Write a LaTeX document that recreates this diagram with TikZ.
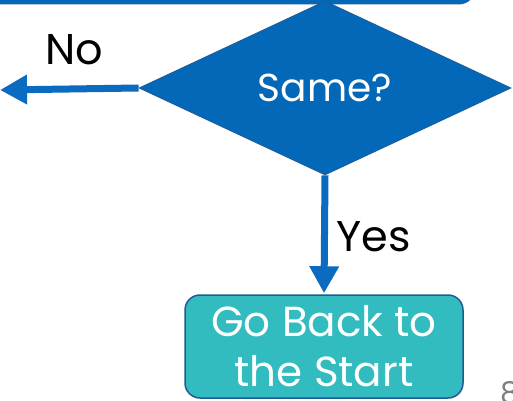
\documentclass[tikz,border=0pt]{standalone}
\usepackage{fontspec}
\setmainfont{Poppins}
\usetikzlibrary{shapes.geometric,arrows.meta}
\definecolor{flowblue}{HTML}{0468B8}
\definecolor{edgeblue}{HTML}{1F5A96}
\definecolor{arrowblue}{HTML}{0A6BC0}
\definecolor{teal}{HTML}{33BCBF}
\definecolor{pagegray}{HTML}{7F7F7F}
\tikzset{
  decision/.style={diamond, draw=edgeblue, line width=0.8pt, fill=flowblue,
    minimum width=372pt, minimum height=174pt, inner sep=0pt,
    text=white, font=\fontsize{39}{40}\selectfont},
  endbox/.style={rectangle, rounded corners=15pt, draw=edgeblue, line width=1.5pt,
    fill=teal, minimum width=278pt, minimum height=103pt, inner sep=0pt,
    text=white, align=center, font=\fontsize{42}{50}\selectfont},
  flow/.style={draw=arrowblue, line width=7pt,
    -{Triangle[length=27pt,width=28pt]}},
  branch/.style={text=black, font=\fontsize{43}{43}\selectfont},
}
\begin{document}
\begin{tikzpicture}[x=1pt,y=1pt]
  \useasboundingbox (0,0) rectangle (513,400);
  \clip (0,0) rectangle (513,400);
  % previous step, only its lower edge is in view
  \draw[edgeblue, line width=0.8pt, fill=flowblue, rounded corners=16pt]
    (-40,396) rectangle (475,460);
  \node[decision] (same) at (325,312) {Same?};
  \node[endbox] (start) at (324,53.5) {Go Back to\\the Start};
  \coordinate (noend) at (0,310);
  \draw[flow] (same.west) -- (noend);
  \draw[flow] (same.south) -- ([yshift=1pt]start.north);
  \node[branch, anchor=base] (no) at (74,336) {No};
  \node[branch, anchor=base west] (yes) at (333,149) {Yes};
  \node[text=pagegray, font=\fontsize{30}{30}\selectfont, anchor=base west] (page) at (497,-3) {8};
\end{tikzpicture}
\end{document}
